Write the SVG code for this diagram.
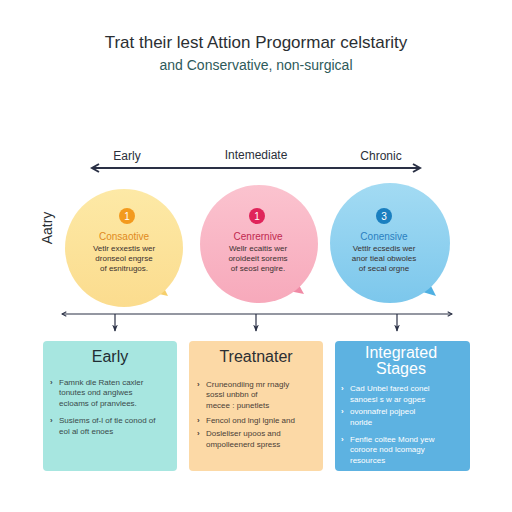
<svg xmlns="http://www.w3.org/2000/svg" width="512" height="512" viewBox="0 0 512 512">
<defs>
<style>
text{font-family:"Liberation Sans","DejaVu Sans",sans-serif}
.title{font-size:17px;fill:#2b2f33;text-anchor:middle}
.sub{font-size:14px;fill:#2e5a5a;text-anchor:middle}
.axl{font-size:12px;fill:#2b2f3a;text-anchor:middle}
.ct{font-size:10px;text-anchor:middle}
.cb{font-size:8px;fill:#3a3030;text-anchor:middle}
.bt{font-size:16px;text-anchor:middle}
.bl{font-size:8px}
.bu{font-weight:bold}
.line{stroke:#2a3045;stroke-width:2;fill:none}
.thin{stroke:#2a3045;stroke-width:1.2;fill:none}
</style>
<marker id="ah" viewBox="0 0 10 10" refX="8" refY="5" markerWidth="5" markerHeight="5" orient="auto-start-reverse"><path d="M1,1 L8,5 L1,9" fill="none" stroke="#2a3045" stroke-width="2"/></marker>
<marker id="sh" viewBox="0 0 10 10" refX="8" refY="5" markerWidth="6" markerHeight="6" orient="auto-start-reverse"><path d="M2,2 L8,5 L2,8" fill="none" stroke="#2a3045" stroke-width="1.5"/></marker>
<marker id="dn" viewBox="0 0 10 10" refX="9" refY="5" markerWidth="6" markerHeight="6" orient="auto"><path d="M0,1 L10,5 L0,9 L3,5 Z" fill="#2a3045"/></marker>
<linearGradient id="gy" x1="0" y1="0" x2="0" y2="1"><stop offset="0" stop-color="#fde9a6"/><stop offset="1" stop-color="#fbdc8e"/></linearGradient>
<linearGradient id="gp" x1="0" y1="0" x2="0" y2="1"><stop offset="0" stop-color="#fbc3cf"/><stop offset="1" stop-color="#f7a9bb"/></linearGradient>
<linearGradient id="gb" x1="0" y1="0" x2="0" y2="1"><stop offset="0" stop-color="#a3dbf3"/><stop offset="1" stop-color="#7cc7ec"/></linearGradient>
</defs>
<rect width="512" height="512" fill="#ffffff"/>
<text class="title" x="256" y="48">Trat their lest Attion Progormar celstarity</text>
<text class="sub" x="256" y="70">and Conservative, non-surgical</text>

<g id="connectors">
<line class="line" x1="92" y1="168" x2="420" y2="168" marker-start="url(#ah)" marker-end="url(#ah)"/>
<line class="thin" x1="62" y1="314" x2="452" y2="314" marker-start="url(#sh)" marker-end="url(#sh)"/>
<line class="thin" x1="115" y1="314" x2="115" y2="331" marker-end="url(#dn)"/>
<line class="thin" x1="256" y1="314" x2="256" y2="331" marker-end="url(#dn)"/>
<line class="thin" x1="397" y1="314" x2="397" y2="331" marker-end="url(#dn)"/>
</g>
<text class="axl" x="127" y="160">Early</text>
<text class="axl" x="256" y="159">Intemediate</text>
<text class="axl" x="381" y="160">Chronic</text>
<text x="52" y="228" font-size="14" fill="#2b2f33" text-anchor="middle" transform="rotate(-90 52 228)">Aatry</text>

<g id="circle1">
<path d="M150,292 L168,296 L160,280 Z" fill="#f6cf6c"/>
<circle cx="124" cy="248" r="59" fill="url(#gy)"/>
<circle cx="127" cy="216" r="8" fill="#f39a1e"/>
<text x="127" y="220" font-size="10" fill="#fff" text-anchor="middle">1</text>
<text class="ct" x="124" y="240" fill="#e08a20">Consaotive</text>
<text class="cb" x="124" y="251">Vetlr exxestis wer</text>
<text class="cb" x="124" y="261">dronseol engrse</text>
<text class="cb" x="124" y="271">of esnitrugos.</text>
</g>

<g id="circle2">
<path d="M284,290 L304,294 L294,276 Z" fill="#f08aa5"/>
<circle cx="259" cy="244" r="59" fill="url(#gp)"/>
<circle cx="257" cy="216" r="8" fill="#e0245a"/>
<text x="257" y="220" font-size="10" fill="#fff" text-anchor="middle">1</text>
<text class="ct" x="258" y="240" fill="#c0284f">Cenrernive</text>
<text class="cb" x="258" y="251">Wellr ecaitis wer</text>
<text class="cb" x="258" y="261">oroideeit sorems</text>
<text class="cb" x="258" y="271">of seosl engire.</text>
</g>

<g id="circle3">
<path d="M416,290 L436,296 L426,276 Z" fill="#4fb0e2"/>
<circle cx="390" cy="243" r="60" fill="url(#gb)"/>
<circle cx="384" cy="216" r="8" fill="#1a7fc0"/>
<text x="384" y="220" font-size="10" fill="#fff" text-anchor="middle">3</text>
<text class="ct" x="384" y="240" fill="#2a7fc0">Conensive</text>
<text class="cb" x="384" y="251" fill="#203040">Vettlr ecsedis wer</text>
<text class="cb" x="384" y="261" fill="#203040">anor tieal obwoles</text>
<text class="cb" x="384" y="271" fill="#203040">of secal orgne</text>
</g>

<g id="box1">
<rect x="43" y="341" width="134" height="130" rx="4" fill="#a7e6e0"/>
<text class="bt" x="110" y="362" fill="#1f2d33">Early</text>
<g class="bl" fill="#3a4a4a">
<text class="bu" x="50" y="385">›</text>
<text x="59" y="385">Famnk dle Raten caxler</text>
<text x="59" y="395">tonutes ond anglwes</text>
<text x="59" y="406">ecloams of pranvlees.</text>
<text class="bu" x="50" y="423">›</text>
<text x="59" y="423">Susiems of-l of tle conod of</text>
<text x="59" y="434">eol al oft enoes</text>
</g>
</g>

<g id="box2">
<rect x="189" y="341" width="134" height="130" rx="4" fill="#fcd9a6"/>
<text class="bt" x="256" y="362" fill="#2b2f33">Treatnater</text>
<g class="bl" fill="#4a4036">
<text class="bu" x="197" y="387">›</text>
<text x="206" y="387">Cruneondiing mr rnagly</text>
<text x="206" y="397">sossl unbbn of</text>
<text x="206" y="408">mecee : punetlets</text>
<text class="bu" x="197" y="423">›</text>
<text x="206" y="423">Fencol ond lngl lgnle and</text>
<text class="bu" x="197" y="436">›</text>
<text x="206" y="436">Dosleliser upoos and</text>
<text x="206" y="447">ompolleenerd spress</text>
</g>
</g>

<g id="box3">
<rect x="335" y="341" width="135" height="130" rx="4" fill="#5db2e1"/>
<text class="bt" x="401" y="358" fill="#ffffff" font-size="13">Integrated</text>
<text class="bt" x="401" y="374" fill="#ffffff" font-size="13">Stages</text>
<g class="bl" fill="#ffffff">
<text class="bu" x="341" y="391">›</text>
<text x="350" y="391">Cad Unbel fared conel</text>
<text x="350" y="402">sanoesl s w ar ogpes</text>
<text class="bu" x="341" y="414">›</text>
<text x="350" y="414">ovonnafrel pojpeol</text>
<text x="350" y="425">norlde</text>
<text class="bu" x="341" y="442">›</text>
<text x="350" y="442">Fenfie coltee Mond yew</text>
<text x="350" y="452">coroore nod lcomagy</text>
<text x="350" y="463">resources</text>
</g>
</g>
</svg>
